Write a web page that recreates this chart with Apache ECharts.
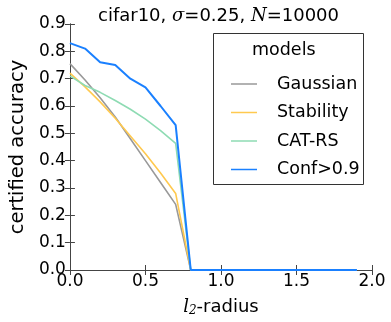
<!DOCTYPE html>
<html>
<head>
<meta charset="utf-8">
<script src="https://cdn.jsdelivr.net/npm/echarts@6/dist/echarts.min.js"></script>
<style>
  html, body { margin: 0; padding: 0; background: #fff; }
  #main { width: 391px; height: 322px; }
</style>
</head>
<body>
<div id="main"></div>
<script>
// radius values (x)
var radius = [0, 0.1, 0.2, 0.3, 0.4, 0.5, 0.6, 0.7, 0.8, 0.9, 1.0, 1.1, 1.2, 1.3, 1.4, 1.5, 1.6, 1.7, 1.8, 1.9];
var modelNames = ['Gaussian', 'Stability', 'CAT-RS', 'Conf>0.9'];
var gaussian  = [0.755, 0.695, 0.63, 0.56, 0.48, 0.40, 0.32, 0.24, 0, 0, 0, 0, 0, 0, 0, 0, 0, 0, 0, 0];
var stability = [0.72, 0.67, 0.615, 0.555, 0.49, 0.425, 0.355, 0.28, 0, 0, 0, 0, 0, 0, 0, 0, 0, 0, 0, 0];
var catrs     = [0.71, 0.675, 0.65, 0.62, 0.588, 0.552, 0.51, 0.463, 0, 0, 0, 0, 0, 0, 0, 0, 0, 0, 0, 0];
var conf      = [0.83, 0.81, 0.76, 0.75, 0.70, 0.668, 0.60, 0.53, 0, 0, 0, 0, 0, 0, 0, 0, 0, 0, 0, 0];
var colors = ['#999999', '#ffc94f', '#8edbb3', '#1a80ff'];

function pairs(ys) {
    return radius.map(function (x, i) { return [x, ys[i]]; });
}

var font = 'DejaVu Sans';
var axisColor = '#444';

var chart = echarts.init(document.getElementById('main'));

function mkSeries(name, ys, i) {
    return {
        name: name,
        type: 'line',
        data: pairs(ys),
        symbol: 'none',
        z: 2 + i,
        lineStyle: { color: colors[i], width: i === 3 ? 2 : 1.6 },
        itemStyle: { color: colors[i] }
    };
}

chart.setOption({
    animation: false,
    title: {
        text: 'cifar10, {i|σ}=0.25, {i|N}=10000',
        left: 213.5,
        textAlign: 'center',
        top: 2,
        textStyle: {
            fontFamily: font, fontSize: 18, fontWeight: 'normal', color: '#000',
            rich: { i: { fontFamily: 'DejaVu Serif', fontStyle: 'italic', fontSize: 18 } }
        }
    },
    grid: { left: 55, right: 19, top: 24, bottom: 50 },
    legend: {
        orient: 'vertical',
        left: 226,
        top: 70,
        icon: 'rect',
        itemWidth: 26,
        itemHeight: 1.5,
        itemGap: 10.5,
        z: 10,
        data: modelNames,
        textStyle: { fontFamily: font, fontSize: 17.5, color: '#000', padding: [0, 0, 0, 15] }
    },
    graphic: [
        {
            type: 'rect',
            shape: { x: 213.5, y: 33.5, width: 150, height: 151 },
            style: { fill: '#fff', stroke: '#333', lineWidth: 1 },
            z: 1
        },
        {
            type: 'text',
            left: 252,
            top: 41,
            style: { text: 'models', fontFamily: font, fontSize: 17.5, fill: '#000' },
            z: 2
        }
    ],
    xAxis: [
        {
            type: 'value', min: 0, max: 2, interval: 0.5,
            name: '{i|l}{s|2}-radius',
            nameLocation: 'middle',
            nameGap: 27,
            nameTextStyle: {
                fontFamily: font, fontSize: 18, color: '#000',
                rich: {
                    i: { fontFamily: 'DejaVu Serif', fontStyle: 'italic', fontSize: 18 },
                    s: { fontFamily: 'DejaVu Serif', fontStyle: 'italic', fontSize: 12, verticalAlign: 'bottom', padding: [8, 0, 0, 0] }
                }
            },
            axisLine: { lineStyle: { color: axisColor, width: 1 } },
            axisTick: { inside: true, length: 5, lineStyle: { color: axisColor } },
            axisLabel: { fontFamily: font, fontSize: 17, color: '#000', margin: 3, formatter: function (v) { return v.toFixed(1); } },
            splitLine: { show: false }
        },
        {
            type: 'value', min: 0, max: 2, interval: 0.5, position: 'top',
            axisLine: { lineStyle: { color: axisColor, width: 1 } },
            axisTick: { inside: true, length: 5, lineStyle: { color: axisColor } },
            axisLabel: { show: false },
            splitLine: { show: false }
        }
    ],
    yAxis: [
        {
            type: 'value', min: 0, max: 0.9, interval: 0.1,
            name: 'certified accuracy',
            nameLocation: 'middle',
            nameGap: 35,
            nameTextStyle: { fontFamily: font, fontSize: 19.5, color: '#000' },
            axisLine: { show: true, lineStyle: { color: axisColor, width: 1 } },
            axisTick: { show: true, inside: true, length: 5, lineStyle: { color: axisColor } },
            axisLabel: { fontFamily: font, fontSize: 17, color: '#000', margin: 4, formatter: function (v) { return v.toFixed(1); } },
            splitLine: { show: false }
        },
        {
            type: 'value', min: 0, max: 0.9, interval: 0.1, position: 'right',
            axisLine: { show: true, lineStyle: { color: axisColor, width: 1 } },
            axisTick: { show: true, inside: true, length: 5, lineStyle: { color: axisColor } },
            axisLabel: { show: false },
            splitLine: { show: false }
        }
    ],
    series: [
        mkSeries(modelNames[0], gaussian, 0),
        mkSeries(modelNames[1], stability, 1),
        mkSeries(modelNames[2], catrs, 2),
        mkSeries(modelNames[3], conf, 3)
    ]
});
</script>
</body>
</html>
